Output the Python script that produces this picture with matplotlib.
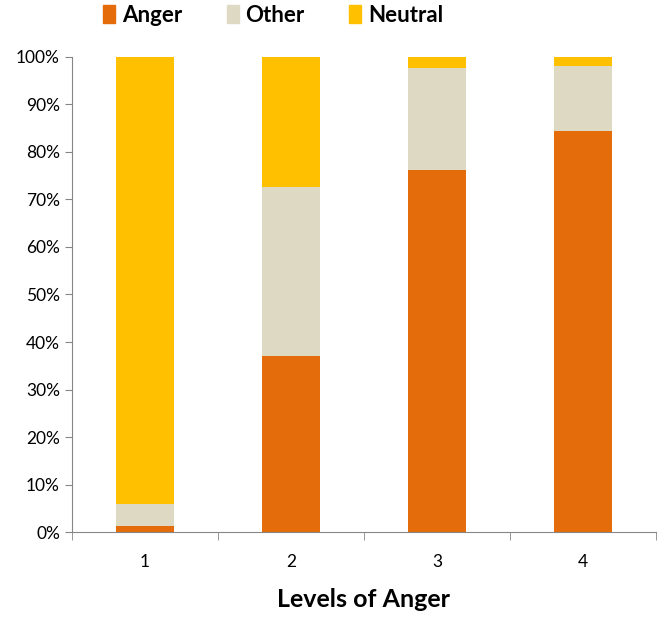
import numpy as np
import matplotlib.pyplot as plt
from matplotlib.patches import Patch
from matplotlib.ticker import PercentFormatter, FixedLocator

plt.rcParams["font.family"] = ["Lato", "DejaVu Sans"]

levels = ["1", "2", "3", "4"]
anger = [1.3, 37.0, 76.2, 84.4]
other = [4.6, 35.6, 21.5, 13.7]
neutral = [94.1, 27.4, 2.3, 1.9]

c_anger = "#E46C0A"
c_other = "#DDD9C3"
c_neutral = "#FFC000"

fig = plt.figure(figsize=(6.64, 6.18), dpi=100)
ax = fig.add_axes([0.108, 0.139, 0.88, 0.769])

x = np.arange(len(levels))
w = 0.4
ax.bar(x, anger, w, color=c_anger)
ax.bar(x, other, w, bottom=anger, color=c_other)
bottom2 = np.array(anger) + np.array(other)
ax.bar(x, neutral, w, bottom=bottom2, color=c_neutral)

ax.set_xlim(-0.5, len(levels) - 0.5)
ax.set_ylim(0, 100)
ax.set_yticks(np.arange(0, 101, 10))
ax.yaxis.set_major_formatter(PercentFormatter(decimals=0))
ax.set_xticks(x)
ax.set_xticklabels(levels)
ax.xaxis.set_minor_locator(FixedLocator(np.arange(-0.5, len(levels), 1.0)))
ax.tick_params(axis="x", which="major", length=0, pad=16, labelsize=12.5)
ax.tick_params(axis="x", which="minor", length=6, color="#868686")
ax.tick_params(axis="y", length=5, color="#868686", labelsize=12.5)

for s in ["top", "right"]:
    ax.spines[s].set_visible(False)
for s in ["left", "bottom"]:
    ax.spines[s].set_color("#868686")

ax.set_xlabel("Levels of Anger", fontsize=18, fontweight="bold", labelpad=13)

handles = [Patch(color=c_anger), Patch(color=c_other), Patch(color=c_neutral)]
fig.legend(handles, ["Anger", "Other", "Neutral"], loc="upper left",
           bbox_to_anchor=(0.125, 1.025), ncol=3, frameon=False,
           prop={"size": 16, "weight": "bold"}, handlelength=0.55,
           handleheight=0.9, handletextpad=0.3, columnspacing=2.0)

fig.savefig("out.png", dpi=100)
